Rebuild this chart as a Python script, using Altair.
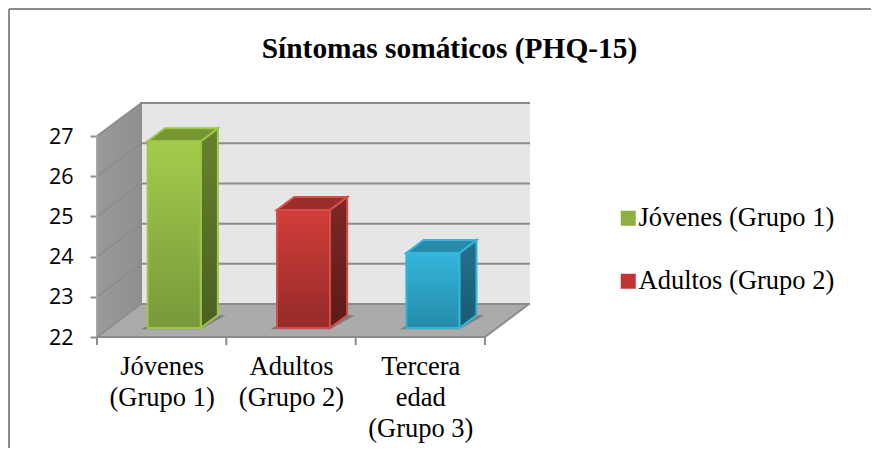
import altair as alt
import pandas as pd

CATEGORIES = ["Jóvenes (Grupo 1)", "Adultos (Grupo 2)", "Tercera edad (Grupo 3)"]
VALUES = [26.65, 24.94, 23.87]
AXIS_LINES = [["Jóvenes", "(Grupo 1)"], ["Adultos", "(Grupo 2)"], ["Tercera", "edad", "(Grupo 3)"]]
LEGEND_VALUES = ["Jóvenes (Grupo 1)", "Adultos (Grupo 2)"]
Y_TICKS = [22, 23, 24, 25, 26, 27]
X_TICKS = [0, 1, 2, 3]

FRONT = [("#a3cc4c", "#78983a"), ("#d23e3a", "#962b29"), ("#33b6dc", "#258ba9")]
STROKE = ["#9cc74b", "#d0504c", "#37b4d9"]
SIDE = [("#66832f", "#4a5f21"), ("#7e2826", "#5c1a18"), ("#24728e", "#185a72")]
TOP = ["#76962f", "#9c2c2a", "#258ba9"]
FLAT = ["#8db041", "#c03633", "#2ca0c2"]

# projection of the oblique 3-D box: depth z in 0..1 moves a point right and up
DX, DY = 0.34, 0.82
Z0, Z1 = 0.27, 0.66
BAR_L, BAR_W = 0.30, 0.41
X_DOM = [0, 3.348]
Y_DOM = [22, 27.846]
W, H = 433, 235


def X(field="x", axis=alt.Undefined):
    return alt.X(field, type="quantitative", scale=alt.Scale(domain=X_DOM, nice=False, zero=False), axis=axis, title=None)


def Y(field="y", axis=alt.Undefined):
    return alt.Y(field, type="quantitative", scale=alt.Scale(domain=Y_DOM, nice=False, zero=False), axis=axis, title=None)


def vgrad(c0, c1):
    return alt.Gradient(gradient="linear", x1=0, x2=0, y1=0, y2=1,
                        stops=[alt.GradientStop(color=c0, offset=0), alt.GradientStop(color=c1, offset=1)])


layers = []

label_expr = " : ".join(
    f"datum.value == {i + 0.5} ? {lines!r}" for i, lines in enumerate(AXIS_LINES)
) + " : ''"
x_axis = alt.Axis(values=[0.5, 1.5, 2.5], labelExpr=label_expr, ticks=False, domain=False, grid=False,
                  labelFont="Liberation Serif", labelFontSize=26.5, labelColor="#000000", labelAngle=0,
                  labelLineHeight=31, labelPadding=16, labelOverlap=False, labelBaseline="top", labelAlign="center")
y_axis = alt.Axis(values=Y_TICKS, domain=False, grid=False, tickColor="#8c8c8c", tickSize=7, tickWidth=2,
                  labelFont="Open Sans", labelFontSize=21.5, labelColor="#000000", labelPadding=17, labelOffset=1,
                  labelOverlap=False, labelFlush=False)

# back wall
back = pd.DataFrame({"x": [DX], "x2": [X_DOM[1]], "y": [Y_DOM[0] + DY], "y2": [Y_DOM[1]]})
layers.append(alt.Chart(back).mark_rect(fill="#e6e6e6").encode(
    x=X(axis=x_axis), x2="x2", y=Y(axis=y_axis), y2="y2"))

# left wall
left = pd.DataFrame({"x": [0, DX], "y": [22, 22 + DY], "y2": [27, 27 + DY]})
layers.append(alt.Chart(left).mark_area(
    color=alt.Gradient(gradient="linear", x1=0, x2=1, y1=0, y2=0,
                       stops=[alt.GradientStop(color="#9a9a9a", offset=0), alt.GradientStop(color="#8f8f8f", offset=1)]),
    ).encode(x=X(), y=Y(), y2="y2"))

# floor
floor = pd.DataFrame({"y": [22, 22 + DY], "x": [0, DX], "x2": [3, 3 + DX]})
layers.append(alt.Chart(floor).mark_area(orient="horizontal", fill="#ababab").encode(x=X(), x2="x2", y=Y()))

# gridlines on the back wall and on the left wall
grid_back = pd.DataFrame({"x": [DX] * 6, "x2": [X_DOM[1]] * 6, "y": [t + DY for t in Y_TICKS]})
layers.append(alt.Chart(grid_back).mark_rule(color="#8c8c8c", strokeWidth=2).encode(x=X(), x2="x2", y=Y()))
for t in Y_TICKS:
    d = pd.DataFrame({"x": [0, DX], "y": [t, t + DY]})
    layers.append(alt.Chart(d).mark_line(color="#8c8c8c", strokeWidth=1.6).encode(x=X(), y=Y()))

# wall and floor edges
edges = [
    ([DX, DX], [22 + DY, Y_DOM[1]], "#8c8c8c"),
    ([0, 0], [22, 27], "#a6a6a6"),
    ([0, 3], [22, 22], "#8c8c8c"),
    ([3, 3 + DX], [22, 22 + DY], "#8c8c8c"),
]
for xs, ys, col in edges:
    layers.append(alt.Chart(pd.DataFrame({"x": xs, "y": ys})).mark_line(color=col, strokeWidth=2).encode(x=X(), y=Y()))

# category tick marks under the floor
ticks = pd.DataFrame({"x": X_TICKS, "y": [21.8] * 4, "y2": [22] * 4})
layers.append(alt.Chart(ticks).mark_rule(color="#8c8c8c", strokeWidth=2).encode(x=X(), y=Y(), y2="y2"))

base_y = 22 + Z0 * DY
bars = pd.DataFrame({
    "name": CATEGORIES,
    "x": [i + BAR_L + Z0 * DX for i in range(3)],
    "x2": [i + BAR_L + BAR_W + Z0 * DX for i in range(3)],
    "y": [base_y] * 3,
    "y2": [v + Z0 * DY for v in VALUES],
})

# soft shadows on the floor
for i in range(3):
    xl = i + BAR_L + Z0 * DX
    sh = pd.DataFrame({
        "y": [base_y - 0.03, base_y + (Z1 - Z0) * DY],
        "x": [xl - 0.05, xl + (Z1 - Z0) * DX],
        "x2": [xl + BAR_W, xl + BAR_W + (Z1 - Z0) * DX + 0.06],
    })
    layers.append(alt.Chart(sh).mark_area(orient="horizontal", fill="#6e6e6e", opacity=0.75).encode(x=X(), x2="x2", y=Y()))

# base faces carry the legend
layers.append(alt.Chart(bars).mark_rect().encode(
    x=X(), x2="x2", y=Y(), y2="y2",
    color=alt.Color("name:N", scale=alt.Scale(domain=CATEGORIES, range=FLAT),
                    legend=alt.Legend(values=LEGEND_VALUES, title=None, orient="none", legendX=518, legendY=103,
                                      symbolType="square", symbolSize=225, symbolStrokeWidth=0,
                                      labelFont="Liberation Serif", labelFontSize=26.5, labelColor="#000000",
                                      labelLimit=300, rowPadding=36, labelOffset={"expr": "-3"}, padding=0))))

for i, v in enumerate(VALUES):
    xl = bars.x[i]
    xr = bars.x2[i]
    top = bars.y2[i]
    # side face
    side = pd.DataFrame({"x": [xr, xr + (Z1 - Z0) * DX],
                         "y": [base_y, base_y + (Z1 - Z0) * DY],
                         "y2": [top, top + (Z1 - Z0) * DY]})
    layers.append(alt.Chart(side).mark_area(color=vgrad(*SIDE[i]), stroke=STROKE[i], strokeWidth=2).encode(
        x=X(), y=Y(), y2="y2"))
    # top face
    cap = pd.DataFrame({"y": [top, top + (Z1 - Z0) * DY],
                        "x": [xl, xl + (Z1 - Z0) * DX],
                        "x2": [xr, xr + (Z1 - Z0) * DX]})
    layers.append(alt.Chart(cap).mark_area(orient="horizontal", fill=TOP[i], stroke=STROKE[i], strokeWidth=2).encode(
        x=X(), x2="x2", y=Y()))
    # front face
    layers.append(alt.Chart(bars.iloc[[i]]).mark_rect(color=vgrad(*FRONT[i]), stroke=STROKE[i], strokeWidth=2).encode(
        x=X(), x2="x2", y=Y(), y2="y2"))

# outer frame of the chart: only its top and left edges are in view
frame = pd.DataFrame({"a": [0]})
layers.append(alt.Chart(frame).mark_rule(color="#8a8a8a", strokeWidth=2).encode(
    x=alt.value(-88), x2=alt.value(774), y=alt.value(-93)))
layers.append(alt.Chart(frame).mark_rule(color="#8a8a8a", strokeWidth=2).encode(
    x=alt.value(-88), y=alt.value(-93), y2=alt.value(349)))

chart = alt.layer(*layers).properties(
    width=W, height=H,
    background="#ffffff",
    title=alt.TitleParams("Síntomas somáticos (PHQ-15)", font="Liberation Serif", fontSize=29.4, fontWeight="bold",
                          color="#000000", anchor="middle", dx=136, dy=60),
    autosize=alt.AutoSizeParams(type="none"),
    padding={"left": 89, "top": 94, "right": 341, "bottom": 111},
).configure_view(stroke=None)

chart.save("out.html", embed_options={"renderer": "svg", "actions": False})
